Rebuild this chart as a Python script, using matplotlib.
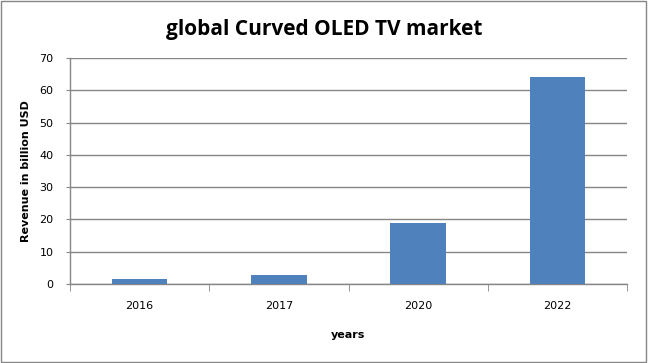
import numpy as np
import matplotlib.pyplot as plt
from matplotlib.patches import Rectangle

# chart data
years = ['2016', '2017', '2020', '2022']
revenue = [1.5, 2.8, 18.9, 64.1]
y_ticks = [0, 10, 20, 30, 40, 50, 60, 70]

grey = '#868686'

fig = plt.figure(figsize=(6.48, 3.63), dpi=100)
fig.patches.append(Rectangle((0.002, 0.003), 0.995, 0.994, transform=fig.transFigure,
                             fill=False, edgecolor=grey, linewidth=1.0))

ax = fig.add_axes([70 / 648, 1 - 284 / 363, 557 / 648, 226 / 363])
x = np.arange(len(years))
ax.bar(x, revenue, width=0.4, color='#4F81BD', zorder=3)

ax.set_xlim(-0.5, len(years) - 0.5)
ax.set_ylim(0, 70)
ax.set_yticks(y_ticks)
ax.set_xticks(x)
ax.set_xticklabels(years)
ax.set_xticks(np.arange(-0.5, len(years)), minor=True)
ax.tick_params(axis='x', which='major', length=0, pad=12, labelsize=8)
ax.tick_params(axis='x', which='minor', length=5, color=grey, direction='out')
ax.tick_params(axis='y', length=3, color=grey, labelsize=8, pad=9)
ax.grid(axis='y', color=grey, linewidth=1.0, zorder=0)

for side in ['top', 'right']:
    ax.spines[side].set_visible(False)
for side in ['left', 'bottom']:
    ax.spines[side].set_color(grey)
    ax.spines[side].set_linewidth(1.0)

ax.set_xlabel('years', fontsize=8, fontweight='bold', labelpad=14)
ax.set_ylabel('Revenue in billion USD', fontsize=8, fontweight='bold', labelpad=6)
fig.text(0.5, 1 - 30 / 363, 'global Curved OLED TV market', ha='center', va='center',
         fontsize=15, fontweight='bold', family='Open Sans')

fig.savefig('out.png', dpi=100)
